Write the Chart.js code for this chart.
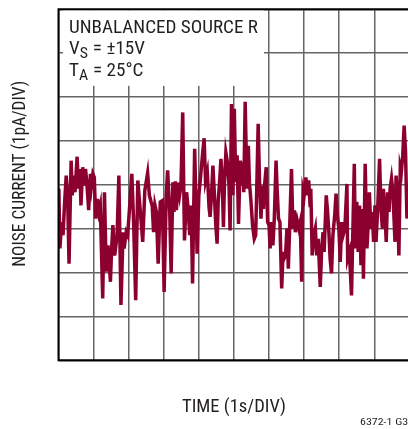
<!DOCTYPE html>
<html>
<head>
<meta charset="utf-8">
<script src="https://cdn.jsdelivr.net/npm/chart.js@4"></script>
<style>
html,body{margin:0;padding:0;overflow:hidden;background:#fff;width:408px;height:429px;}
#wrap{position:absolute;left:0;top:0;width:412px;height:429px;}
</style>
</head>
<body>
<div id="wrap"><canvas id="c" width="412" height="429"></canvas></div>
<script>
// Time (s) of each vertex of the noise trace (1 s/DIV)
const timeS = [
0.01,0.04,0.09,0.13,0.17,0.22,0.26,0.30,0.36,0.39,0.43,0.47,0.53,0.57,0.61,0.64,0.69,0.74,0.77,0.81,
0.86,0.91,0.94,0.98,1.02,1.06,1.11,1.15,1.19,1.26,1.31,1.36,1.41,1.48,1.51,1.55,1.60,1.67,1.72,1.78,
1.84,1.87,1.93,1.97,2.03,2.09,2.14,2.20,2.26,2.31,2.40,2.46,2.54,2.59,2.64,2.67,2.71,2.75,2.79,2.84,
2.90,2.96,3.01,3.07,3.11,3.17,3.21,3.26,3.29,3.33,3.36,3.40,3.45,3.49,3.54,3.59,3.65,3.69,3.74,3.78,
3.82,3.88,3.92,3.95,4.00,4.06,4.11,4.15,4.19,4.24,4.29,4.32,4.36,4.40,4.44,4.48,4.52,4.55,4.59,4.63,
4.67,4.70,4.73,4.77,4.82,4.86,4.89,4.93,4.97,5.01,5.05,5.09,5.13,5.18,5.22,5.26,5.28,5.32,5.37,5.41,
5.44,5.48,5.53,5.58,5.62,5.66,5.69,5.73,5.77,5.81,5.84,5.88,5.92,5.96,6.00,6.03,6.07,6.11,6.15,6.20,
6.23,6.27,6.31,6.36,6.40,6.43,6.47,6.51,6.55,6.64,6.68,6.72,6.75,6.80,6.85,6.89,6.93,6.97,7.00,7.05,
7.09,7.13,7.17,7.19,7.23,7.28,7.32,7.36,7.40,7.46,7.50,7.54,7.57,7.63,7.67,7.71,7.74,7.78,7.82,7.87,
7.91,7.95,7.99,8.03,8.07,8.11,8.16,8.22,8.24,8.29,8.35,8.39,8.43,8.46,8.50,8.54,8.58,8.62,8.66,8.69,
8.74,8.79,8.83,8.86,8.90,8.94,8.98,9.02,9.05,9.10,9.15,9.19,9.23,9.26,9.30,9.34,9.38,9.42,9.45,9.49,
9.53,9.59,9.62,9.66,9.70,9.74,9.77,9.81,9.85,9.89,9.93,9.98,10.0
];
// Noise current (pA, 1 pA/DIV, 0 = bottom of grid)
const noisePA = [
3.91,2.55,3.15,2.85,3.53,4.21,3.76,2.20,4.55,3.76,4.21,3.83,4.64,3.91,4.36,3.53,4.40,3.98,4.36,4.02,
3.42,4.25,3.98,4.25,4.17,3.23,3.68,3.38,3.53,1.41,3.83,2.02,2.62,1.79,2.47,3.08,2.39,2.85,4.21,1.26,
2.92,2.55,2.92,2.85,3.53,4.25,3.15,1.37,4.10,3.61,2.70,3.87,4.27,3.76,3.61,3.53,2.92,3.53,3.38,2.20,
3.61,3.64,1.56,3.76,4.33,3.38,1.98,4.06,3.38,4.08,3.42,4.05,3.76,3.98,5.65,2.73,3.83,3.49,2.85,3.53,
1.75,4.82,3.53,2.43,3.76,4.29,4.74,5.06,4.10,4.29,3.49,3.27,3.76,4.44,3.83,3.11,2.66,3.61,4.06,4.59,
3.98,3.04,4.06,4.73,4.48,3.98,2.96,5.84,3.76,5.73,4.06,4.67,3.11,4.55,3.98,4.52,3.83,5.89,3.91,4.89,
4.06,3.68,3.08,2.77,2.85,4.29,5.39,4.06,3.23,3.98,3.45,4.06,4.40,3.15,3.08,2.55,3.15,2.62,3.23,4.55,
3.91,3.23,3.15,1.64,2.47,2.32,2.39,3.00,2.09,4.36,3.00,3.42,2.92,3.19,3.00,3.15,1.79,3.87,3.76,4.17,
3.76,4.10,3.53,3.91,2.39,2.85,3.00,2.39,2.77,1.67,2.55,2.92,2.47,3.76,3.38,2.85,2.32,1.98,2.85,3.30,
3.80,3.27,3.00,2.24,3.15,2.85,3.00,4.02,2.32,2.47,1.48,3.00,4.48,2.55,3.61,2.47,3.53,2.17,3.45,1.86,
4.48,2.55,3.15,3.83,3.00,3.38,2.70,3.53,2.70,3.53,4.59,3.45,3.00,3.91,3.38,2.70,3.83,3.38,3.91,4.14,
3.83,2.70,4.21,3.76,2.39,4.40,4.29,4.67,5.35,4.74,3.23,3.50,3.30
];
const xDivs = 10, yDivs = 8;
const yTitle = 'NOISE CURRENT (1pA/DIV)';
const xTitle = 'TIME (1s/DIV)';
const noteLine1 = 'UNBALANCED SOURCE R';
const noteLine2 = ['V', 'S', ' = \u00B115V'];
const noteLine3 = ['T', 'A', ' = 25\u00B0C'];
const figId = '6372-1 G35';

const FONT = '"Liberation Sans Narrow","Roboto Condensed","Liberation Sans",Arial,sans-serif';
const INK = '#231f20';

// draw text stretched horizontally to a given width
function fitText(ctx, text, x, y, size, width, align) {
  ctx.font = size + 'px ' + FONT;
  const w = ctx.measureText(text).width;
  const sx = width / w;
  ctx.save();
  ctx.translate(x, y);
  ctx.scale(sx, 1);
  ctx.textAlign = align;
  ctx.fillText(text, 0, 0);
  ctx.restore();
  return sx;
}

const decor = {
  id: 'decor',
  beforeDatasetsDraw(chart) {
    const ctx = chart.ctx, a = chart.chartArea;
    ctx.save();
    ctx.fillStyle = '#fff';
    ctx.fillRect(a.left + 4.5, a.top + 1, 201, 75.5);
    ctx.restore();
  },
  afterDraw(chart) {
    const ctx = chart.ctx, a = chart.chartArea;
    ctx.save();
    ctx.strokeStyle = '#000';
    ctx.lineWidth = 2;
    ctx.beginPath();
    ctx.moveTo(a.left, a.top); ctx.lineTo(a.right + 5, a.top);
    ctx.moveTo(a.left, a.top - 1); ctx.lineTo(a.left, a.bottom + 1);
    ctx.moveTo(a.left - 1, a.bottom); ctx.lineTo(a.right + 5, a.bottom);
    ctx.stroke();

    ctx.fillStyle = INK;
    ctx.textBaseline = 'alphabetic';
    const sx = fitText(ctx, noteLine1, 69, 33.3, 17.5, 189, 'left');
    const sub = (parts, y) => {
      ctx.save();
      ctx.translate(69, 0);
      ctx.scale(sx, 1);
      ctx.textAlign = 'left';
      let x = 0;
      ctx.font = '17.5px ' + FONT;
      ctx.fillText(parts[0], x, y); x += ctx.measureText(parts[0]).width;
      ctx.font = '14.5px ' + FONT;
      ctx.fillText(parts[1], x, y + 4); x += ctx.measureText(parts[1]).width + 0.5;
      ctx.font = '17.5px ' + FONT;
      ctx.fillText(parts[2], x, y);
      ctx.restore();
    };
    sub(noteLine2, 54.3);
    sub(noteLine3, 76);

    fitText(ctx, xTitle, 234, 411.7, 17.5, 104, 'center');
    ctx.save();
    ctx.translate(25, 173.7);
    ctx.rotate(-Math.PI / 2);
    fitText(ctx, yTitle, 0, 0, 17.5, 186, 'center');
    ctx.restore();

    fitText(ctx, figId, 360, 425.3, 9.5, 54, 'left');
    ctx.restore();
  }
};

const points = timeS.map((t, i) => ({ x: t, y: noisePA[i] }));

new Chart(document.getElementById('c'), {
  type: 'line',
  data: {
    datasets: [{
      data: points,
      borderColor: '#8c0030',
      borderWidth: 3.5,
      pointRadius: 0,
      tension: 0,
      fill: false
    }]
  },
  options: {
    responsive: false,
    animation: false,
    events: [],
    layout: { padding: { left: 58.5, right: 2.6, top: 9.3, bottom: 68.7 } },
    plugins: { legend: { display: false }, tooltip: { enabled: false } },
    scales: {
      x: {
        type: 'linear', min: 0, max: xDivs,
        ticks: { display: false, stepSize: 1 },
        grid: { color: '#666666', lineWidth: 1.5, drawTicks: false },
        border: { display: false }
      },
      y: {
        type: 'linear', min: 0, max: yDivs,
        ticks: { display: false, stepSize: 1 },
        grid: { color: '#666666', lineWidth: 1.5, drawTicks: false },
        border: { display: false }
      }
    }
  },
  plugins: [decor]
});
</script>
</body>
</html>
